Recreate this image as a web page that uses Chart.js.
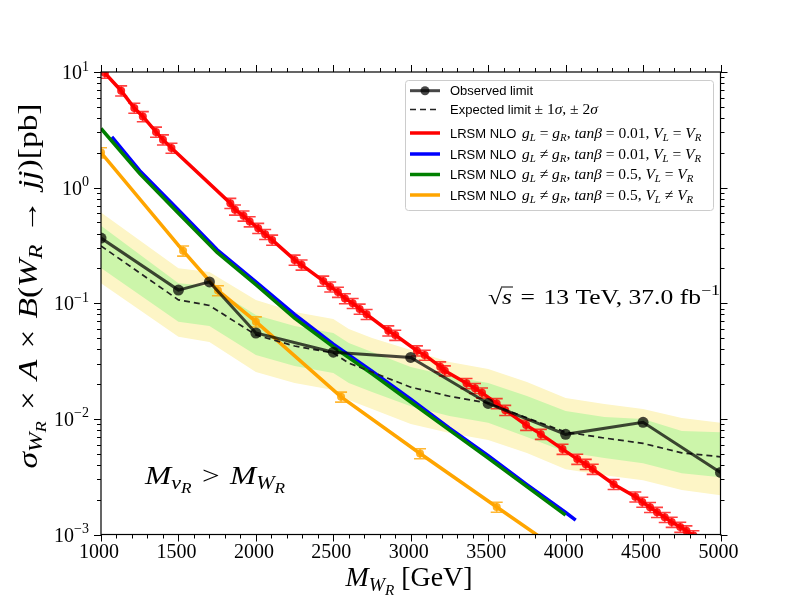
<!DOCTYPE html>
<html><head><meta charset="utf-8">
<script src="https://cdn.jsdelivr.net/npm/chart.js@4.4.1/dist/chart.umd.min.js"></script>
<style>html,body{margin:0;padding:0;background:#fff}</style>
</head><body>
<canvas id="c" width="800" height="600"></canvas>
<script>
// ---------------- data ----------------
const xTickLabels = [1000,1500,2000,2500,3000,3500,4000,4500,5000];
const yTickValues = [0.001,0.01,0.1,1,10];
const yTickExps   = ['−3','−2','−1','0','1'];

const obsMass = [1000,1500,1700,2000,2500,3000,3500,4000,4500,5000];
const obsXsec = [0.366,0.130,0.153,0.0553,0.0377,0.0340,0.0136,0.00735,0.00933,0.00344];

const expMass = [1000,1500,1700,2000,2250,2500,2600,2750,3000,3250,3500,3750,4000,4250,4500,4750,5000];
const expXsec = [0.313,0.107,0.0957,0.0532,0.0427,0.0371,0.0304,0.0254,0.0188,0.0157,0.0137,0.0102,0.00769,0.00683,0.00614,0.00508,0.00470];
const expPlus2 = [0.609,0.201,0.1866,0.1068,0.0841,0.0731,0.0599,0.0501,0.0394,0.0310,0.0270,0.0208,0.01514,0.01343,0.01216,0.01016,0.00925];
const expPlus1 = [0.467,0.149,0.1412,0.0792,0.0636,0.0553,0.0453,0.0379,0.0281,0.02348,0.0204,0.01576,0.01168,0.01036,0.00996,0.00784,0.00768];
const expMinus1 = [0.202,0.0693,0.0636,0.0357,0.0286,0.0249,0.0204,0.01706,0.01283,0.01057,0.00925,0.00696,0.00516,0.00458,0.00414,0.00339,0.00313];
const expMinus2 = [0.149,0.0514,0.0462,0.0254,0.0204,0.01776,0.01455,0.01216,0.00902,0.00754,0.00655,0.00506,0.00367,0.00326,0.00295,0.00242,0.00219];

const redMass = [1025,1130,1215,1270,1355,1400,1455,1835,1865,1920,1960,2015,2060,2105,2250,2295,2435,2480,2530,2575,2625,2670,2715,2855,2900,3040,3090,3190,3220,3360,3415,3460,3555,3610,3745,3840,3980,4075,4130,4175,4310,4450,4495,4545,4590,4640,4685,4740,4780,4825];
const redXsec = [9.80,6.89,4.88,4.13,3.03,2.60,2.20,0.734,0.643,0.570,0.509,0.446,0.395,0.353,0.237,0.215,0.156,0.139,0.125,0.110,0.100,0.0893,0.0803,0.0579,0.0531,0.0389,0.0357,0.0283,0.0261,0.0203,0.0184,0.0168,0.0136,0.0119,0.00883,0.00738,0.00548,0.00449,0.00406,0.00368,0.00272,0.00212,0.00191,0.00172,0.00156,0.00141,0.00128,0.00116,0.00108,0.00098];

const blueMass = [1070,1250,1500,1750,2000,2250,2500,2750,3000,3250,3500,3750,4000,4065];
const blueXsec = [2.75,1.40,0.64,0.29,0.153,0.080,0.0443,0.0258,0.0148,0.0083,0.0048,0.0027,0.00155,0.00133];

const greenMass = [1000,1250,1500,1750,2000,2250,2500,2750,3000,3250,3500,3750,4000];
const greenXsec = [3.25,1.32,0.60,0.275,0.145,0.0745,0.042,0.0245,0.0140,0.0080,0.00457,0.00259,0.00147];

const orangeMass = [1000,1530,1755,2000,2550,3060,3555,3850];
const orangeXsec = [2.01,0.284,0.129,0.0693,0.0155,0.00502,0.00173,0.00092];
const orangeMarked = [true,true,true,true,true,true,true,false];

const errRel = 0.10;

const pts = (xs, ys) => xs.map((x, i) => ({x, y: ys[i]}));

// ---------------- text helpers ----------------
const SERIF = '"Liberation Serif","DejaVu Serif",serif';
const SANS = '"Liberation Sans","DejaVu Sans",sans-serif';
const SP = '\u2004';
function fontFor(st, size) {
  if (st === 'i') return `italic ${size}px ${SERIF}`;
  if (st === 's') return `${size}px ${SANS}`;
  return `${size}px ${SERIF}`;
}
function sz(base, lv) { return lv === 0 ? base : (Math.abs(lv) === 1 ? base * 0.7 : base * 0.55); }
function dy(base, lv) { return lv === -1 ? base * 0.2 : lv === -2 ? base * 0.34 : lv === 1 ? -base * 0.42 : 0; }
function richWidth(ctx, parts, base) {
  let w = 0;
  for (const p of parts) { ctx.font = fontFor(p[1], sz(base, p[2] || 0)); w += ctx.measureText(p[0]).width; }
  return w;
}
function drawRich(ctx, parts, x, y, base, align, targetW) {
  const w = richWidth(ctx, parts, base);
  const sx = targetW ? targetW / w : 1;
  const W = w * sx;
  const x0 = align === 'center' ? x - W / 2 : align === 'right' ? x - W : x;
  ctx.save();
  ctx.translate(x0, y); ctx.scale(sx, 1);
  ctx.textAlign = 'left'; ctx.textBaseline = 'alphabetic';
  let cx = 0;
  for (const p of parts) {
    const lv = p[2] || 0;
    ctx.font = fontFor(p[1], sz(base, lv));
    ctx.fillText(p[0], cx, dy(base, lv));
    cx += ctx.measureText(p[0]).width;
  }
  ctx.restore();
  return W;
}

// ---------------- plugins ----------------
const errorBars = {
  id: 'errorBars',
  afterDatasetDraw(chart, args) {
    const ds = chart.data.datasets[args.index];
    if (!ds.errColor) return;
    const ctx = chart.ctx, ys = chart.scales.y, a = chart.chartArea;
    ctx.save();
    ctx.beginPath(); ctx.rect(a.left, a.top, a.right - a.left, a.bottom - a.top); ctx.clip();
    ctx.strokeStyle = ds.errColor; ctx.lineWidth = 1.6;
    args.meta.data.forEach((el, i) => {
      if (ds.marked && !ds.marked[i]) return;
      const v = ds.data[i].y;
      const y1 = ys.getPixelForValue(v * (1 + errRel));
      const y2 = ys.getPixelForValue(v * (1 - errRel));
      ctx.beginPath();
      ctx.moveTo(el.x, y1); ctx.lineTo(el.x, y2);
      ctx.moveTo(el.x - 6, y1); ctx.lineTo(el.x + 6, y1);
      ctx.moveTo(el.x - 6, y2); ctx.lineTo(el.x + 6, y2);
      ctx.stroke();
    });
    ctx.restore();
  }
};

const decorations = {
  id: 'decorations',
  afterDraw(chart) {
    const ctx = chart.ctx, a = chart.chartArea, xs = chart.scales.x, ys = chart.scales.y;
    ctx.save();
    // frame
    ctx.strokeStyle = '#000'; ctx.lineWidth = 1.2;
    ctx.strokeRect(a.left, a.top, a.right - a.left, a.bottom - a.top);
    // x ticks (outward, top and bottom)
    ctx.lineWidth = 1;
    ctx.beginPath();
    for (let m = xs.min; m <= xs.max + 1e-6; m += 100) {
      const px = Math.round(xs.getPixelForValue(m)) + 0.5;
      const major = xTickLabels.includes(m);
      const L = major ? 7 : 4;
      ctx.moveTo(px, a.bottom); ctx.lineTo(px, a.bottom + L);
      ctx.moveTo(px, a.top); ctx.lineTo(px, a.top - L);
    }
    // y ticks
    for (let d = -3; d <= 1; d++) {
      for (let k = 1; k <= 9; k++) {
        const v = k * Math.pow(10, d);
        if (v > 10.0001) break;
        const py = Math.round(ys.getPixelForValue(v)) + 0.5;
        const L = k === 1 ? 7 : 4;
        ctx.moveTo(a.left, py); ctx.lineTo(a.left - L, py);
        ctx.moveTo(a.right, py); ctx.lineTo(a.right + L, py);
      }
    }
    ctx.stroke();
    // tick labels
    ctx.fillStyle = '#000';
    xTickLabels.forEach(v => drawRich(ctx, [[String(v), 'r']], xs.getPixelForValue(v) - 2, a.bottom + 23, 20, 'center', 40));
    yTickValues.forEach((v, i) => {
      const py = ys.getPixelForValue(v);
      drawRich(ctx, [['10', 'r'], [yTickExps[i], 'r', 1]], a.left - 12, py + 7, 20, 'right');
    });
    // axis titles
    drawRich(ctx, [['M', 'i'], ['W', 'i', -1], ['R', 'i', -2], [' [GeV]', 'r']], 409, 586, 27, 'center', 127);
    ctx.save();
    ctx.translate(37, 286); ctx.rotate(-Math.PI / 2);
    drawRich(ctx, [['σ', 'i'], ['W', 'i', -1], ['R', 'i', -2], [SP + '×' + SP, 'r'], ['A', 'i'], [SP + '×' + SP, 'r'], ['B', 'i'], ['(', 'r'], ['W', 'i'], ['R', 'i', -1], [SP + '→' + SP, 'r'], ['jj', 'i'], [')', 'r'], ['[pb]', 'r']], 0, 0, 27, 'center', 365);
    ctx.restore();
    // annotations
    const sqParts = [['√', 'r'], ['s', 'i'], [SP + '=' + SP + '13 TeV, 37.0 fb', 'r'], ['−1', 'r', 1]];
    const natW = richWidth(ctx, sqParts, 21);
    const sqTarget = 232, sxs = sqTarget / natW;
    drawRich(ctx, sqParts, 488, 304, 21, 'left', sqTarget);
    ctx.font = `21px ${SERIF}`;
    const sqW = ctx.measureText('√').width * sxs;
    ctx.font = `italic 21px ${SERIF}`;
    const sW = ctx.measureText('s').width * sxs;
    ctx.lineWidth = 1; ctx.beginPath();
    ctx.moveTo(488 + sqW - 1, 304 - 17); ctx.lineTo(488 + sqW + sW + 1, 304 - 17); ctx.stroke();
    drawRich(ctx, [['M', 'i'], ['ν', 'i', -1], ['R', 'i', -2], [SP + '>' + SP, 'r'], ['M', 'i'], ['W', 'i', -1], ['R', 'i', -2]], 145, 484, 26, 'left', 140);
    // legend
    const lx = 405, ly = 80, lw = 308, lh = 130;
    ctx.fillStyle = 'rgba(255,255,255,0.85)'; ctx.strokeStyle = '#cccccc'; ctx.lineWidth = 1;
    ctx.beginPath(); ctx.roundRect(lx + 0.5, ly + 0.5, lw, lh, 3); ctx.fill(); ctx.stroke();
    const rows = [90.7, 109.5, 133, 154, 174.5, 195];
    const sx0 = 410, sx1 = 440, tx = 450;
    // observed
    ctx.strokeStyle = 'rgba(0,0,0,0.72)'; ctx.lineWidth = 3;
    ctx.beginPath(); ctx.moveTo(sx0, rows[0]); ctx.lineTo(sx1, rows[0]); ctx.stroke();
    ctx.fillStyle = 'rgba(0,0,0,0.72)'; ctx.beginPath(); ctx.arc(425, rows[0], 4.5, 0, Math.PI * 2); ctx.fill();
    // expected
    ctx.strokeStyle = '#222'; ctx.lineWidth = 1.6; ctx.setLineDash([6, 4]);
    ctx.beginPath(); ctx.moveTo(sx0, rows[1]); ctx.lineTo(sx1, rows[1]); ctx.stroke();
    ctx.setLineDash([]);
    const cols = ['#ff0000', '#0000ff', '#008000', '#ffa500'];
    cols.forEach((c, i) => {
      ctx.strokeStyle = c; ctx.lineWidth = 3.5;
      ctx.beginPath(); ctx.moveTo(sx0, rows[i + 2]); ctx.lineTo(sx1, rows[i + 2]); ctx.stroke();
    });
    ctx.fillStyle = '#000';
    drawRich(ctx, [['Observed limit', 's']], tx, rows[0] + 4.5, 13, 'left');
    const w1 = drawRich(ctx, [['Expected limit ', 's']], tx, rows[1] + 4.5, 13, 'left');
    drawRich(ctx, [['± 1', 'r'], ['σ', 'i'], [', ± 2', 'r'], ['σ', 'i']], tx + w1, rows[1] + 4.5, 15.5, 'left');
    const eq = ' = ', ne = ' ≠ ';
    const legendMath = [
      [eq, '0.01', eq],
      [ne, '0.01', eq],
      [ne, '0.5', eq],
      [ne, '0.5', ne]
    ];
    legendMath.forEach((m, i) => {
      const w0 = drawRich(ctx, [['LRSM NLO ', 's']], tx, rows[i + 2] + 4.5, 13, 'left');
      drawRich(ctx, [['g', 'i'], ['L', 'i', -1], [m[0], 'r'], ['g', 'i'], ['R', 'i', -1], [', ', 'r'], ['tanβ', 'i'], [' = ' + m[1] + ', ', 'r'], ['V', 'i'], ['L', 'i', -1], [m[2], 'r'], ['V', 'i'], ['R', 'i', -1]], tx + w0 + 2, rows[i + 2] + 4.5, 15.5, 'left');
    });
    ctx.restore();
  }
};

// ---------------- chart ----------------
const YELLOW = 'rgb(253,245,198)', LGREEN = 'rgb(204,245,170)';
new Chart(document.getElementById('c'), {
  type: 'line',
  data: {
    datasets: [
      { data: pts(expMass, expPlus2), borderWidth: 0, pointRadius: 0, fill: 1, backgroundColor: YELLOW, order: 20 },
      { data: pts(expMass, expMinus2), borderWidth: 0, pointRadius: 0, fill: false, order: 19 },
      { data: pts(expMass, expPlus1), borderWidth: 0, pointRadius: 0, fill: 3, backgroundColor: LGREEN, order: 18 },
      { data: pts(expMass, expMinus1), borderWidth: 0, pointRadius: 0, fill: false, order: 17 },
      { label: 'Observed limit', data: pts(obsMass, obsXsec), borderColor: 'rgba(0,0,0,0.72)', borderWidth: 3, pointRadius: 5.5, pointBackgroundColor: 'rgba(0,0,0,0.72)', pointBorderWidth: 0, fill: false, order: 4 },
      { label: 'Expected limit', data: pts(expMass, expXsec), borderColor: '#222', borderWidth: 1.7, borderDash: [6, 4], pointRadius: 0, fill: false, order: 5 },
      { label: 'red', data: pts(redMass, redXsec), borderColor: '#ff0000', borderWidth: 3.5, pointRadius: 4, pointBackgroundColor: 'rgba(255,0,0,0.85)', pointBorderWidth: 0, errColor: 'rgba(255,0,0,0.75)', fill: false, order: 10 },
      { label: 'blue', data: pts(blueMass, blueXsec), borderColor: '#0000ff', borderWidth: 3.5, pointRadius: 0, fill: false, order: 9 },
      { label: 'green', data: pts(greenMass, greenXsec), borderColor: '#008000', borderWidth: 3.5, pointRadius: 0, fill: false, order: 8 },
      { label: 'orange', data: pts(orangeMass, orangeXsec), borderColor: '#ffa500', borderWidth: 3.5, pointRadius: orangeMarked.map(m => m ? 4 : 0), pointBackgroundColor: 'rgba(255,165,0,0.85)', pointBorderWidth: 0, errColor: 'rgba(255,165,0,0.8)', marked: orangeMarked, fill: false, order: 7 }
    ]
  },
  options: {
    responsive: false, animation: false, devicePixelRatio: 1,
    layout: { padding: { top: 72, right: 79.5, left: 0, bottom: 0 } },
    elements: { line: { tension: 0 } },
    plugins: { legend: { display: false }, tooltip: { enabled: false }, filler: { propagate: false } },
    scales: {
      x: { type: 'linear', min: 1000, max: 5000, grid: { display: false }, border: { display: false }, ticks: { display: false },
           afterFit: s => { s.height = 65.5; } },
      y: { type: 'logarithmic', min: 0.001, max: 10, grid: { display: false }, border: { display: false }, ticks: { display: false },
           afterFit: s => { s.width = 101; } }
    }
  },
  plugins: [errorBars, decorations]
});
</script>
</body></html>
